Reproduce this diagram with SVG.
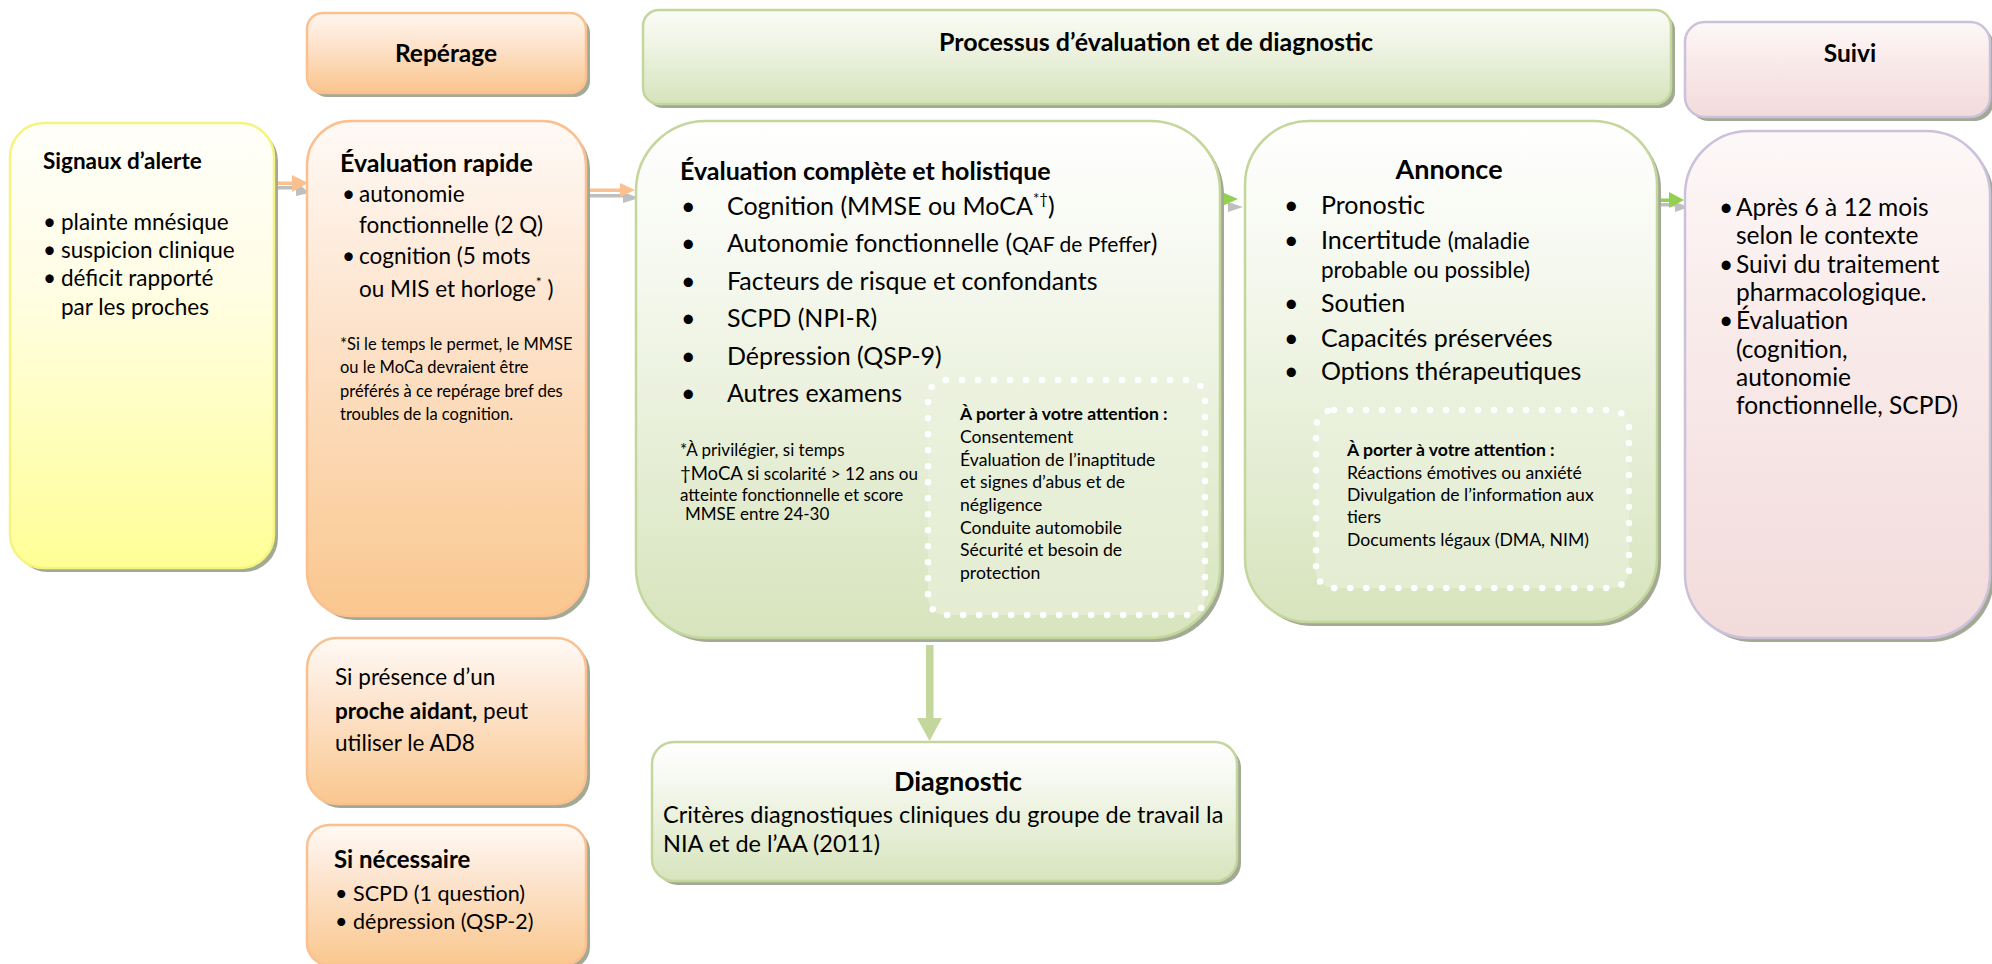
<svg xmlns="http://www.w3.org/2000/svg" width="1992" height="964" viewBox="0 0 1992 964">
<style>
text{font-family:Lato,"Liberation Sans",sans-serif;fill:#000}
.b{font-weight:bold}
.sh{fill:#a2a994}
.yel{fill:url(#gY);stroke:#f4f47e;stroke-width:2.5}
.org{fill:url(#gO);stroke:#fac08f;stroke-width:2.5}
.orh{fill:url(#gOH);stroke:#fac08f;stroke-width:2.5}
.grn{fill:url(#gG);stroke:#c3d69b;stroke-width:2.5}
.grh{fill:url(#gGH);stroke:#c3d69b;stroke-width:2.5}
.pnk{fill:url(#gP);stroke:#ccc1da;stroke-width:2.5}
.dot{fill:#ebf1de;fill-opacity:0.6;stroke:#fff;stroke-width:6.5;stroke-linecap:round;stroke-dasharray:0 16}
.big{font-size:25px}
.mid{font-size:22.5px}
.sm{font-size:16.5px}
.att{font-size:17.6px}
</style>
<defs>
<linearGradient id="gY" x1="0" y1="0" x2="0" y2="1"><stop offset="0" stop-color="#fffffa"/><stop offset="0.35" stop-color="#fffde6"/><stop offset="1" stop-color="#ffff96"/></linearGradient>
<linearGradient id="gO" x1="0" y1="0" x2="0" y2="1"><stop offset="0" stop-color="#fffaf6"/><stop offset="0.35" stop-color="#fde6d2"/><stop offset="1" stop-color="#fac78e"/></linearGradient>
<linearGradient id="gOH" x1="0" y1="0" x2="0" y2="1"><stop offset="0" stop-color="#fff6ee"/><stop offset="0.4" stop-color="#fde3cc"/><stop offset="1" stop-color="#fac48c"/></linearGradient>
<linearGradient id="gG" x1="0" y1="0" x2="0" y2="1"><stop offset="0" stop-color="#ffffff"/><stop offset="0.3" stop-color="#f5f8ee"/><stop offset="1" stop-color="#d7e4bd"/></linearGradient>
<linearGradient id="gGH" x1="0" y1="0" x2="0" y2="1"><stop offset="0" stop-color="#fbfcf7"/><stop offset="0.4" stop-color="#eef3e2"/><stop offset="1" stop-color="#d5e3bb"/></linearGradient>
<linearGradient id="gP" x1="0" y1="0" x2="0" y2="1"><stop offset="0" stop-color="#fdf8f8"/><stop offset="0.35" stop-color="#f9eceb"/><stop offset="1" stop-color="#f2dbdb"/></linearGradient>
</defs>

<g id="connectors">
  <g fill="#bfbfbf" stroke="none">
    <rect x="277" y="186" width="22" height="3.5"/><polygon points="296,181 309,193 296,196"/>
    <rect x="589" y="194" width="36" height="3.5"/><polygon points="623,192 639,198 623,203"/>
    <polygon points="1228,202 1243,207 1228,212"/>
    <rect x="1658" y="203" width="20" height="3.5"/><polygon points="1675,202 1689,207 1675,212"/>
  </g>
  <g fill="#fac08f" stroke="none">
    <rect x="276" y="181.5" width="18" height="3.5"/><polygon points="292,175 308,183 292,192"/>
    <rect x="586" y="188.5" width="36" height="3.5"/><polygon points="620,183 635,190 620,197"/>
  </g>
  <g fill="#92d050" stroke="none">
    <rect x="1219" y="197.5" width="5" height="3.5"/><polygon points="1222,192 1238,199 1222,206"/>
    <rect x="1656" y="198.5" width="15" height="3.5"/><polygon points="1669,192 1684,200 1669,208"/>
  </g>
  <g fill="#c3d69b">
    <rect x="926" y="645" width="7.5" height="74"/><polygon points="917,718 942,718 929.5,741"/>
  </g>
</g>

<g id="n-signaux">
  <rect class="sh" x="14" y="127" width="264" height="445" rx="34"/>
  <rect class="yel" x="10" y="123" width="264" height="445" rx="34"/>
  <text class="b" x="43" y="169" font-size="22.5">Signaux d’alerte</text>
  <g class="mid">
    <text x="43" y="230">•</text><text x="61" y="230">plainte mnésique</text>
    <text x="43" y="258">•</text><text x="61" y="258">suspicion clinique</text>
    <text x="43" y="286">•</text><text x="61" y="286">déficit rapporté</text>
    <text x="61" y="315">par les proches</text>
  </g>
</g>

<g id="n-reperage">
  <rect class="sh" x="311" y="17" width="279" height="80" rx="16"/>
  <rect class="orh" x="307" y="13" width="279" height="80" rx="16"/>
  <text class="b" x="446" y="62" font-size="24.5" text-anchor="middle">Repérage</text>
</g>

<g id="n-eval-rapide">
  <rect class="sh" x="311" y="125" width="279" height="495" rx="44"/>
  <rect class="org" x="307" y="121" width="279" height="495" rx="44"/>
  <text class="b" x="340" y="172" font-size="25">Évaluation rapide</text>
  <g class="mid">
    <text x="342" y="202">•</text><text x="359" y="202">autonomie</text>
    <text x="359" y="233">fonctionnelle (2 Q)</text>
    <text x="342" y="264">•</text><text x="359" y="264">cognition (5 mots</text>
    <text x="359" y="297">ou MIS et horloge<tspan font-size="14" dy="-10">*</tspan><tspan dy="10"> )</tspan></text>
  </g>
  <g class="sm">
    <text x="340" y="350">*Si le temps le permet, le MMSE</text>
    <text x="340" y="373">ou le MoCa devraient être</text>
    <text x="340" y="397">préférés à ce repérage bref des</text>
    <text x="340" y="420">troubles de la cognition.</text>
  </g>
</g>

<g id="n-proche-aidant">
  <rect class="sh" x="311" y="642" width="279" height="166" rx="30"/>
  <rect class="org" x="307" y="638" width="279" height="166" rx="30"/>
  <g class="mid">
    <text x="335" y="685">Si présence d’un</text>
    <text x="335" y="719"><tspan class="b">proche aidant,</tspan> peut</text>
    <text x="335" y="751">utiliser le AD8</text>
  </g>
</g>

<g id="n-si-necessaire">
  <rect class="sh" x="311" y="829" width="279" height="140" rx="22"/>
  <rect class="org" x="307" y="825" width="279" height="140" rx="22"/>
  <text class="b" x="334" y="868" font-size="24">Si nécessaire</text>
  <g font-size="21.5">
    <text x="335" y="901">•</text><text x="353" y="901">SCPD (1 question)</text>
    <text x="335" y="929">•</text><text x="353" y="929">dépression (QSP-2)</text>
  </g>
</g>

<g id="n-processus">
  <rect class="sh" x="647" y="14" width="1028" height="94" rx="16"/>
  <rect class="grh" x="643" y="10" width="1028" height="94" rx="16"/>
  <text class="b" x="1156" y="51" font-size="25" text-anchor="middle">Processus d’évaluation et de diagnostic</text>
</g>

<g id="n-eval-complete">
  <rect class="sh" x="640" y="125" width="584" height="517" rx="70"/>
  <rect class="grn" x="636" y="121" width="584" height="517" rx="70"/>
  <text class="b" x="680" y="180" font-size="25">Évaluation complète et holistique</text>
  <g class="big">
    <text x="681" y="215">•</text><text x="727" y="215">Cognition (MMSE ou MoCA<tspan font-size="15" dy="-11">*†</tspan><tspan dy="11">)</tspan></text>
    <text x="681" y="252">•</text><text x="727" y="252">Autonomie fonctionnelle (<tspan font-size="21">QAF de Pfeffer</tspan>)</text>
    <text x="681" y="290">•</text><text x="727" y="290">Facteurs de risque et confondants</text>
    <text x="681" y="327">•</text><text x="727" y="327">SCPD (NPI-R)</text>
    <text x="681" y="365">•</text><text x="727" y="365">Dépression (QSP-9)</text>
    <text x="681" y="402">•</text><text x="727" y="402">Autres examens</text>
  </g>
  <g font-size="17">
    <text x="680" y="456">*À privilégier, si temps</text>
    <text x="680" y="480"><tspan font-size="18.5">†MoCA si</tspan> scolarité &gt; 12 ans ou</text>
    <text x="680" y="501">atteinte fonctionnelle et score</text>
    <text x="685" y="520">MMSE entre 24-30</text>
  </g>
  <rect class="dot" x="928" y="380" width="277" height="235" rx="18"/>
  <g class="att">
    <text class="b" x="960" y="420">À porter à votre attention :</text>
    <text x="960" y="443">Consentement</text>
    <text x="960" y="466">Évaluation de l’inaptitude</text>
    <text x="960" y="488">et signes d’abus et de</text>
    <text x="960" y="511">négligence</text>
    <text x="960" y="534">Conduite automobile</text>
    <text x="960" y="556">Sécurité et besoin de</text>
    <text x="960" y="579">protection</text>
  </g>
</g>

<g id="n-annonce">
  <rect class="sh" x="1249" y="125" width="412" height="501" rx="64"/>
  <rect class="grn" x="1245" y="121" width="412" height="501" rx="64"/>
  <text class="b" x="1449" y="179" font-size="27" text-anchor="middle">Annonce</text>
  <g class="big">
    <text x="1284" y="214">•</text><text x="1321" y="214">Pronostic</text>
    <text x="1284" y="249">•</text><text x="1321" y="249">Incertitude <tspan font-size="22.5">(maladie</tspan></text>
    <text x="1321" y="278" font-size="22.5">probable ou possible)</text>
    <text x="1284" y="312">•</text><text x="1321" y="312">Soutien</text>
    <text x="1284" y="347">•</text><text x="1321" y="347">Capacités préservées</text>
    <text x="1284" y="380">•</text><text x="1321" y="380">Options thérapeutiques</text>
  </g>
  <rect class="dot" x="1316" y="410" width="313" height="178" rx="18"/>
  <g class="att">
    <text class="b" x="1347" y="456">À porter à votre attention :</text>
    <text x="1347" y="479">Réactions émotives ou anxiété</text>
    <text x="1347" y="501">Divulgation de l’information aux</text>
    <text x="1347" y="523">tiers</text>
    <text x="1347" y="546">Documents légaux (DMA, NIM)</text>
  </g>
</g>

<g id="n-suivi-header">
  <rect class="sh" x="1689" y="26" width="305" height="95" rx="20"/>
  <rect class="pnk" x="1685" y="22" width="305" height="95" rx="20"/>
  <text class="b" x="1850" y="62" font-size="24.5" text-anchor="middle">Suivi</text>
</g>

<g id="n-suivi">
  <rect class="sh" x="1689" y="135" width="305" height="507" rx="64"/>
  <rect class="pnk" x="1685" y="131" width="305" height="507" rx="64"/>
  <g font-size="24.5">
    <text x="1719" y="216">•</text><text x="1736" y="216">Après 6 à 12 mois</text>
    <text x="1736" y="244">selon le contexte</text>
    <text x="1719" y="273">•</text><text x="1736" y="273">Suivi du traitement</text>
    <text x="1736" y="301">pharmacologique.</text>
    <text x="1719" y="329">•</text><text x="1736" y="329">Évaluation</text>
    <text x="1736" y="358">(cognition,</text>
    <text x="1736" y="386">autonomie</text>
    <text x="1736" y="414">fonctionnelle, SCPD)</text>
  </g>
</g>

<g id="n-diagnostic">
  <rect class="sh" x="656" y="746" width="585" height="139" rx="22"/>
  <rect class="grn" x="652" y="742" width="585" height="139" rx="22"/>
  <text class="b" x="958" y="791" font-size="27" text-anchor="middle">Diagnostic</text>
  <g font-size="23.5">
    <text x="663" y="823">Critères diagnostiques cliniques du groupe de travail la</text>
    <text x="663" y="852">NIA et de l’AA (2011)</text>
  </g>
</g>
</svg>
